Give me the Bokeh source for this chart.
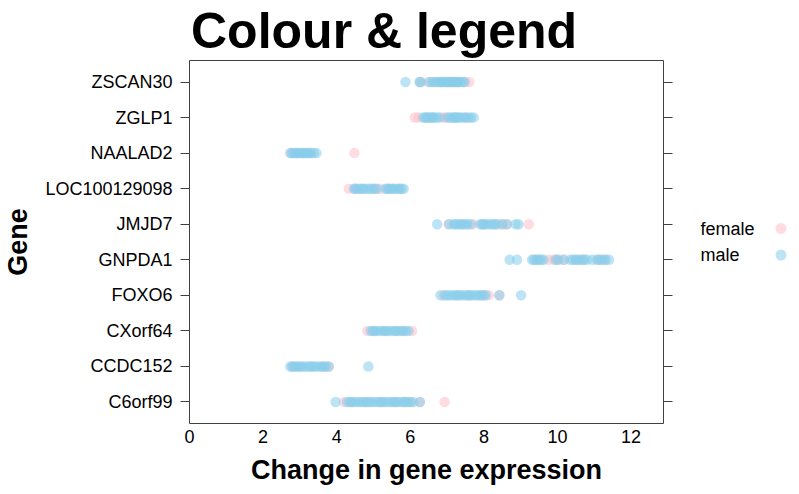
from bokeh.plotting import figure
from bokeh.layouts import row
from bokeh.models import (Range1d, LinearAxis, ColumnDataSource, FixedTicker,
                          CustomJSTickFormatter)
from bokeh.core.properties import value
from bokeh.embed import file_html
from bokeh.resources import INLINE

# ---- data -------------------------------------------------------------
genes = ["C6orf99", "CCDC152", "CXorf64", "FOXO6", "GNPDA1", "JMJD7",
         "LOC100129098", "NAALAD2", "ZGLP1", "ZSCAN30"]
x_ticks = [0, 2, 4, 6, 8, 10, 12]
groups = ["female", "male"]
group_colors = ["pink", "skyblue"]
title_text = "Colour & legend"
x_label = "Change in gene expression"
y_label = "Gene"

zscan30_female = [6.3, 6.55, 6.7, 6.85, 7.0, 7.1, 7.2, 7.3, 7.45, 7.6]
zscan30_male = [5.87, 6.25, 6.27, 6.5, 6.6, 6.65, 6.75, 6.8, 6.85, 6.9, 6.95,
                7.0, 7.05, 7.1, 7.15, 7.2, 7.25, 7.3, 7.35, 7.42, 7.48]
zglp1_female = [6.12, 6.22, 6.45, 6.6, 6.9, 6.95, 7.2, 7.5]
zglp1_male = [6.35, 6.4, 6.45, 6.5, 6.55, 6.6, 6.65, 6.72, 6.8, 7.02, 7.08,
              7.15, 7.2, 7.25, 7.3, 7.35, 7.42, 7.5, 7.58, 7.65, 7.72]
naalad2_female = [2.75, 2.9, 3.1, 3.3, 4.48]
naalad2_male = [2.74, 2.8, 2.85, 2.9, 2.95, 3.0, 3.05, 3.1, 3.15, 3.2, 3.25,
                3.3, 3.38, 3.45]
loc_female = [4.33, 4.5, 4.7, 5.05, 5.19, 5.4, 5.7]
loc_male = [4.47, 4.52, 4.58, 4.65, 4.72, 4.8, 4.88, 4.95, 5.02, 5.1, 5.33,
            5.38, 5.45, 5.5, 5.55, 5.62, 5.7, 5.76, 5.82]
jmjd7_female = [7.05, 7.4, 7.7, 8.0, 8.3, 8.5, 8.6, 9.22]
jmjd7_male = [6.73, 7.05, 7.18, 7.22, 7.28, 7.35, 7.42, 7.5, 7.55, 7.64, 7.9,
              7.95, 8.0, 8.08, 8.15, 8.22, 8.3, 8.37, 8.5, 8.63, 8.86, 8.94]
gnpda1_female = [9.45, 9.76, 9.9, 10.0, 10.17, 10.5, 10.7, 11.1, 11.3]
gnpda1_male = [8.7, 8.9, 9.31, 9.36, 9.42, 9.5, 9.56, 9.62, 9.95, 10.02,
               10.17, 10.35, 10.42, 10.5, 10.58, 10.65, 10.72, 10.8, 10.95,
               11.08, 11.15, 11.22, 11.3, 11.4]
foxo6_female = [6.9, 7.3, 7.6, 7.95, 8.13, 8.42]
foxo6_male = [6.82, 6.95, 7.02, 7.1, 7.18, 7.25, 7.32, 7.4, 7.48, 7.55, 7.62,
              7.7, 7.78, 7.85, 7.92, 8.0, 8.05, 8.42, 9.01]
cxorf64_female = [4.83, 5.0, 5.3, 5.6, 5.8, 6.05]
cxorf64_male = [4.92, 4.98, 5.05, 5.12, 5.2, 5.28, 5.35, 5.42, 5.5, 5.58,
                5.65, 5.72, 5.8, 5.88, 5.95]
ccdc152_female = [2.8, 3.0, 3.3, 3.6, 3.78]
ccdc152_male = [2.74, 2.8, 2.86, 2.92, 2.98, 3.05, 3.12, 3.2, 3.28, 3.35,
                3.42, 3.5, 3.58, 3.65, 3.7, 3.78, 4.86]
c6orf99_female = [4.19, 4.4, 4.8, 5.2, 5.6, 5.85, 6.0, 6.26, 6.93]
c6orf99_male = [3.97, 4.28, 4.35, 4.42, 4.5, 4.58, 4.65, 4.72, 4.8, 4.88,
                4.95, 5.02, 5.1, 5.18, 5.25, 5.32, 5.4, 5.48, 5.55, 5.62,
                5.7, 5.78, 5.85, 5.92, 6.0, 6.08, 6.26]

female_values = {
    "ZSCAN30": zscan30_female, "ZGLP1": zglp1_female, "NAALAD2": naalad2_female,
    "LOC100129098": loc_female, "JMJD7": jmjd7_female, "GNPDA1": gnpda1_female,
    "FOXO6": foxo6_female, "CXorf64": cxorf64_female, "CCDC152": ccdc152_female,
    "C6orf99": c6orf99_female,
}
male_values = {
    "ZSCAN30": zscan30_male, "ZGLP1": zglp1_male, "NAALAD2": naalad2_male,
    "LOC100129098": loc_male, "JMJD7": jmjd7_male, "GNPDA1": gnpda1_male,
    "FOXO6": foxo6_male, "CXorf64": cxorf64_male, "CCDC152": ccdc152_male,
    "C6orf99": c6orf99_male,
}

# gene rows sit at the middle of unit-wide bands on a numeric scale
gene_pos = {g: i + 0.5 for i, g in enumerate(genes)}


def to_source(d):
    xs, ys = [], []
    for g in genes:
        xs += d[g]
        ys += [gene_pos[g]] * len(d[g])
    return ColumnDataSource(dict(x=xs, y=ys))


# ---- styling constants --------------------------------------------------
FONT = "Liberation Sans"
FRAME = "#404040"
PT_SIZE = 10.5
PT_ALPHA = 0.55
PAD = 0.105
W, H = 799, 494
MAIN_W = 680        # width of the panel figure
FRAME_TOP, FRAME_BOTTOM = 60, 423

# ---- main panel ---------------------------------------------------------
p = figure(width=MAIN_W, height=H,
           x_range=Range1d(0, 12.88),
           y_range=Range1d(-PAD, len(genes) + PAD),
           output_backend="svg", toolbar_location=None,
           min_border_left=189, min_border_right=17,
           min_border_top=FRAME_TOP, min_border_bottom=H - FRAME_BOTTOM)
p.title.text = title_text
p.title.text_font = FONT
p.title.text_font_style = "bold"
p.title.text_font_size = "50px"
p.title.text_color = "black"
p.title.align = "left"
p.title.offset = 1.5
p.title.standoff = 0
p.title.vertical_align = "top"
p.xgrid.visible = False
p.ygrid.visible = False
p.outline_line_color = FRAME
p.outline_line_width = 1
p.background_fill_color = "white"
p.border_fill_color = "white"

xa = p.xaxis[0]
xa.ticker = FixedTicker(ticks=x_ticks, minor_ticks=[])
xa.major_tick_out = 0
xa.major_tick_in = 0
xa.minor_tick_out = 0
xa.minor_tick_in = 0
xa.axis_line_color = None
xa.major_label_text_font = FONT
xa.major_label_text_font_size = "18px"
xa.major_label_text_color = "black"
xa.major_label_standoff = 6
xa.axis_label = x_label
xa.axis_label_text_font = FONT
xa.axis_label_text_font_style = "bold"
xa.axis_label_text_font_size = "27px"
xa.axis_label_text_color = "black"
xa.axis_label_standoff = 9

ya = p.yaxis[0]
ya.ticker = FixedTicker(ticks=[gene_pos[g] for g in genes], minor_ticks=[])
ya.formatter = CustomJSTickFormatter(args=dict(names=genes),
                                     code="return names[index];")
ya.major_tick_out = 9
ya.major_tick_in = 0
ya.minor_tick_out = 0
ya.minor_tick_in = 0
ya.major_tick_line_color = FRAME
ya.axis_line_color = None
ya.major_label_text_font = FONT
ya.major_label_text_font_size = "18px"
ya.major_label_text_color = "black"
ya.major_label_standoff = 8
ya.axis_label = y_label
ya.axis_label_text_font = FONT
ya.axis_label_text_font_style = "bold"
ya.axis_label_text_font_size = "27px"
ya.axis_label_text_color = "black"
ya.axis_label_standoff = 9

# right-hand tick marks without labels
ra = LinearAxis(ticker=FixedTicker(ticks=[gene_pos[g] for g in genes],
                                   minor_ticks=[]),
                formatter=CustomJSTickFormatter(code="return '';"),
                major_tick_out=9, major_tick_in=0, minor_tick_out=0,
                minor_tick_in=0, major_tick_line_color=FRAME,
                axis_line_color=None, major_label_standoff=0)
p.add_layout(ra, "right")

for vals, col in zip([female_values, male_values], group_colors):
    p.scatter(x="x", y="y", source=to_source(vals), size=PT_SIZE,
              fill_color=col, fill_alpha=PT_ALPHA, line_color=None)

# ---- key (text left, symbol right); its frame lines up with the panel ----
key = figure(width=W - MAIN_W, height=H,
             x_range=Range1d(MAIN_W, W),
             y_range=Range1d(FRAME_BOTTOM, FRAME_TOP),
             output_backend="svg", toolbar_location=None)
key.title.visible = False
key.axis.visible = False
key.grid.visible = False
key.outline_line_color = None
key.min_border = 0
key.border_fill_color = "white"
key.background_fill_color = "white"
key_y = [228, 254.5]
key.text(x=[700, 700], y=key_y, text=groups, text_font=value(FONT),
         text_font_size="18px", text_baseline="middle", text_align="left",
         text_color="black")
key.scatter(x=[780.5, 780.5], y=key_y, size=11, fill_color=group_colors,
            fill_alpha=PT_ALPHA, line_color=None)

layout = row(p, key, spacing=0)
open("out.html", "w").write(file_html(layout, INLINE))
